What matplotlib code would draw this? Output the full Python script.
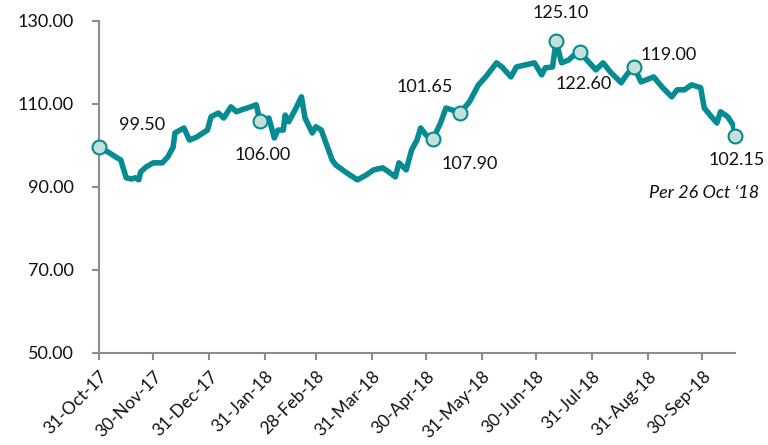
import numpy as np
import matplotlib
matplotlib.use('Agg')
import matplotlib.pyplot as plt
import matplotlib.dates as mdates

plt.rcParams['font.family'] = ['Lato', 'DejaVu Sans']

# price series, days after 31-Oct-17 and value
start = np.datetime64('2017-10-31')
days = [0, 5, 10, 12, 15, 18, 20, 22, 23, 26, 30, 35, 38, 41, 42, 47, 50, 54,
        60, 62, 66, 69, 73, 76, 79, 84, 87, 89, 94, 97, 99, 102, 103, 105, 109,
        112, 114, 118, 120, 123, 126, 129, 131, 137, 143, 148, 152, 157, 161,
        164, 166, 170, 173, 176, 178, 181, 185, 189, 192, 195, 200, 205, 210,
        214, 220, 223, 228, 231, 236, 241, 245, 247, 251, 253, 256, 260, 263,
        266, 271, 275, 279, 283, 289, 292, 296, 300, 307, 312, 317, 320, 324,
        328, 333, 335, 339, 342, 344, 348, 351, 352]
values = [99.50, 98.4, 97.0, 96.5, 92.2, 91.9, 92.2, 91.7, 93.6, 94.8, 95.8,
          95.8, 97.2, 99.6, 103.0, 104.2, 101.3, 102.0, 103.7, 106.9, 107.8,
          106.6, 109.3, 108.1, 108.6, 109.3, 109.8, 106.00, 106.6, 101.8,
          103.7, 103.7, 107.3, 105.7, 109.0, 111.7, 106.6, 103.0, 104.5,
          103.7, 100.1, 96.5, 95.3, 93.4, 91.7, 92.9, 94.1, 94.6, 93.4, 92.4,
          95.8, 94.1, 98.9, 101.3, 104.2, 102.5, 101.65, 105.4, 109.0, 108.6,
          107.90, 110.5, 114.6, 116.5, 119.9, 118.9, 116.5, 118.9, 119.4,
          119.9, 117.0, 118.7, 118.9, 125.10, 119.9, 120.6, 121.8, 122.60,
          120.1, 118.2, 119.9, 117.7, 115.1, 117.0, 119.00, 115.3, 116.5,
          113.9, 111.7, 113.4, 113.4, 114.6, 113.9, 109.0, 106.9, 105.4,
          108.1, 106.9, 104.9, 102.15]

# highlighted points
mark_days = [0, 89, 185, 200, 253, 266, 296, 352]
mark_values = [99.50, 106.00, 101.65, 107.90, 125.10, 122.60, 119.00, 102.15]
mark_labels = ['99.50', '106.00', '101.65', '107.90', '125.10', '122.60',
               '119.00', '102.15']
label_offsets = [(31, 16), (2, -25), (-6, 37), (7, -37), (3, 20), (3, -23),
                 (25, 8), (1, -17)]

tick_dates = ['2017-10-31', '2017-11-30', '2017-12-31', '2018-01-31',
              '2018-02-28', '2018-03-31', '2018-04-30', '2018-05-31',
              '2018-06-30', '2018-07-31', '2018-08-31', '2018-09-30']
y_ticks = [50, 70, 90, 110, 130]

teal = '#078b93'
grey = '#8c8c8c'

dates = start + np.array(days, dtype='timedelta64[D]')
mdates_ = start + np.array(mark_days, dtype='timedelta64[D]')

fig = plt.figure(figsize=(7.68, 4.45), dpi=100)
ax = fig.add_axes([0.129, 0.207, 0.828, 0.746])

ax.plot(dates, values, color=teal, lw=4.0, solid_joinstyle='round',
        solid_capstyle='round', zorder=2)
ax.plot(mdates_, mark_values, 'o', ms=10, mfc='#c6e0da', mec=teal, mew=1.5,
        zorder=3, clip_on=False)

for d, v, s, off in zip(mdates_, mark_values, mark_labels, label_offsets):
    ax.annotate(s, (d, v), xytext=off, textcoords='offset points',
                ha='center', va='center', fontsize=13, color='#111111')

fig.text(0.988, 0.566, 'Per 26 Oct \u201818', ha='right', va='center',
         fontsize=13, style='italic', color='#111111')

ax.set_ylim(50, 130)
ax.set_xlim(start, start + np.timedelta64(352, 'D'))
ax.set_yticks(y_ticks)
ax.set_yticklabels(['%.2f' % t for t in y_ticks])
ax.set_xticks([np.datetime64(t) for t in tick_dates])
ax.xaxis.set_major_formatter(mdates.DateFormatter('%d-%b-%y'))

for sp in ['top', 'right']:
    ax.spines[sp].set_visible(False)
for sp in ['left', 'bottom']:
    ax.spines[sp].set_color(grey)
    ax.spines[sp].set_linewidth(1.5)

ax.tick_params(axis='y', length=5, width=1.5, color=grey, pad=13,
               labelsize=13, labelcolor='#111111')
ax.tick_params(axis='x', length=5, width=1.5, color=grey, pad=6,
               labelsize=12.5, labelcolor='#111111')
plt.setp(ax.get_xticklabels(), rotation=45, ha='right',
         rotation_mode='anchor')

fig.savefig('out.png', dpi=100)
